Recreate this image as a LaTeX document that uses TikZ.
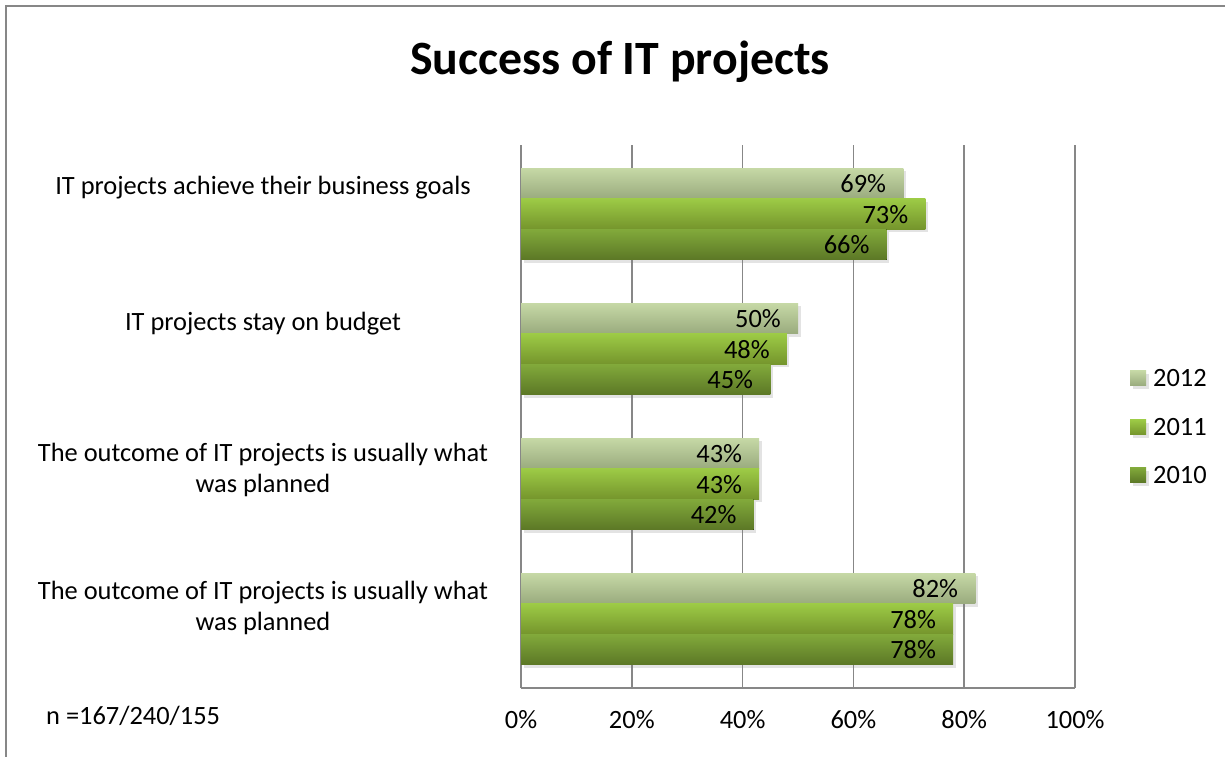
\documentclass[tikz,border=0pt]{standalone}
\usepackage{fontspec}
\setmainfont{Carlito}
\usetikzlibrary{positioning,shadows}

\definecolor{lite12}{HTML}{C6D9A6}
\definecolor{dark12}{HTML}{9AAB7E}
\definecolor{lite11}{HTML}{9DCB46}
\definecolor{dark11}{HTML}{75952C}
\definecolor{lite10}{HTML}{82AA3B}
\definecolor{dark10}{HTML}{5C7826}

\begin{document}
\begin{tikzpicture}[x=1bp, y=-1bp,
        frame/.style    = {draw=black!47, line width=2bp},
        gridline/.style = {draw=black!47, line width=1.5bp},
        txt/.style      = {inner sep=0pt, font=\fontsize{26.5}{30.5}\selectfont},
        catlabel/.style = {txt, align=center},
        val/.style      = {txt, anchor=east},
        shade/.style    = {drop shadow={shadow xshift=2.5bp, shadow yshift=-3bp, opacity=0.22}},
        bar12/.style    = {shade, top color=lite12, bottom color=dark12},
        bar11/.style    = {shade, top color=lite11, bottom color=dark11},
        bar10/.style    = {shade, top color=lite10, bottom color=dark10}]
        
        \useasboundingbox (0,0) rectangle (1225,757);
        \fill[white] (0,0) rectangle (1225,757);
        
        % outer chart frame
        \draw[frame] (6,757) -- (6,6.5) -- (1225,6.5);
        
        % title
        \node[inner sep=0pt, font=\fontsize{48}{56}\selectfont\bfseries] (title) at (620,62) {Success of IT projects};
        
        % grid lines and axes
        \foreach \p in {0,20,...,100}
        \draw[gridline] ({521+5.54*\p},145) -- ({521+5.54*\p},688);
        \draw[gridline] (521,688) -- (1075,688);
        
        % bars, one loop per year
        \foreach \v [count=\i] in {69,50,43,82} {
            \fill[bar12] (521,{168+135*(\i-1)}) rectangle ++({5.54*\v},30.5);
            \node[val] (v12\i) at ({521+5.54*\v-17},{184+135*(\i-1)}) {\v\%};
        }
        \foreach \v [count=\i] in {73,48,43,78} {
            \fill[bar11] (521,{198.5+135*(\i-1)}) rectangle ++({5.54*\v},30.5);
            \node[val] (v11\i) at ({521+5.54*\v-17},{214.5+135*(\i-1)}) {\v\%};
        }
        \foreach \v [count=\i] in {66,45,42,78} {
            \fill[bar10] (521,{229+135*(\i-1)}) rectangle ++({5.54*\v},30.5);
            \node[val] (v10\i) at ({521+5.54*\v-17},{245+135*(\i-1)}) {\v\%};
        }
        
        % category labels
        \node[catlabel] (c1) at (263,188) {IT projects achieve their business goals};
        \node[catlabel] (c2) at (263,324) {IT projects stay on budget};
        \node[catlabel] (c3) at (263,470) {The outcome of IT projects is usually what\\was planned};
        \node[catlabel] (c4) at (263,608) {The outcome of IT projects is usually what\\was planned};
        
        % axis tick labels
        \foreach \p in {0,20,...,100}
        \node[txt] (t\p) at ({521+5.54*\p},720) {\p\%};
        
        \node[txt, anchor=west] (n) at (46,716) {n =167/240/155};
        
        % legend
        \foreach \y/\yr in {378/12,427/11,475/10} {
            \fill[bar\yr] (1130,{\y-7.5}) rectangle (1146,{\y+7.5});
            \node[txt, anchor=west] (key\yr) at (1153,\y) {20\yr};
        }
        
    \end{tikzpicture}
\end{document}
